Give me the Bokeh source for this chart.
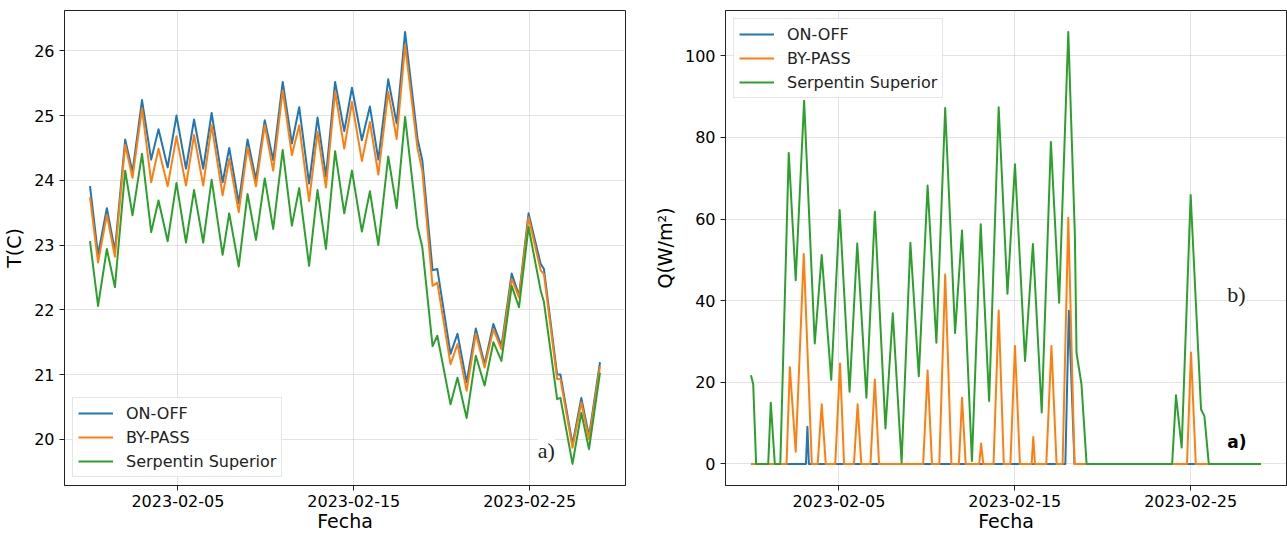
import pandas as pd
from bokeh.plotting import figure
from bokeh.layouts import row
from bokeh.models import FixedTicker, DatetimeTickFormatter, Range1d, Label, Legend, LegendItem
from bokeh.embed import file_html
from bokeh.resources import INLINE

# ---------------- data: temperature (left panel) ----------------
t_time = [
    "2023-01-31 00:00", "2023-01-31 11:00", "2023-01-31 23:00", "2023-02-01 10:00",
    "2023-02-02 00:00", "2023-02-02 10:00", "2023-02-02 23:00", "2023-02-03 11:30",
    "2023-02-03 21:30", "2023-02-04 10:00", "2023-02-04 22:00", "2023-02-05 11:00",
    "2023-02-05 22:00", "2023-02-06 10:30", "2023-02-06 22:00", "2023-02-07 13:00",
    "2023-02-07 22:00", "2023-02-08 11:00", "2023-02-08 23:00", "2023-02-09 10:30",
    "2023-02-09 22:30", "2023-02-10 10:00", "2023-02-10 23:00", "2023-02-11 11:30",
    "2023-02-11 21:30", "2023-02-12 11:00", "2023-02-12 22:30", "2023-02-13 10:00",
    "2023-02-13 22:30", "2023-02-14 11:00", "2023-02-14 21:30", "2023-02-15 11:00",
    "2023-02-15 22:00", "2023-02-16 09:30", "2023-02-16 23:00", "2023-02-17 10:30",
    "2023-02-17 22:00", "2023-02-18 15:00", "2023-02-18 21:30", "2023-02-19 11:30",
    "2023-02-19 18:00", "2023-02-20 12:00", "2023-02-20 21:30", "2023-02-21 10:00",
    "2023-02-21 22:30", "2023-02-22 10:30", "2023-02-22 22:30", "2023-02-23 09:30",
    "2023-02-23 23:30", "2023-02-24 09:30", "2023-02-24 22:30", "2023-02-25 15:00",
    "2023-02-25 19:30", "2023-02-26 13:30", "2023-02-26 18:00", "2023-02-27 10:30",
    "2023-02-27 22:30", "2023-02-28 09:00", "2023-03-01 00:00",
]
t_onoff = [
    23.91, 22.85, 23.57, 22.91, 24.63, 24.13, 25.24, 24.32, 24.79, 24.20,
    25.00, 24.18, 24.94, 24.18, 25.04, 23.97, 24.50, 23.65, 24.63, 24.01,
    24.93, 24.31, 25.52, 24.57, 25.13, 23.95, 24.97, 24.06, 25.52, 24.76,
    25.43, 24.62, 25.14, 24.32, 25.56, 24.88, 26.29, 24.64, 24.31, 22.61,
    22.63, 21.32, 21.63, 20.88, 21.71, 21.16, 21.78, 21.44, 22.56, 22.22,
    23.49, 22.71, 22.63, 21.00, 21.00, 19.92, 20.64, 20.05, 21.19,
]
t_bypass = [
    23.74, 22.73, 23.47, 22.82, 24.55, 24.04, 25.11, 23.97, 24.49, 23.91,
    24.68, 23.92, 24.70, 23.92, 24.85, 23.77, 24.33, 23.51, 24.51, 23.91,
    24.85, 24.15, 25.39, 24.39, 24.85, 23.68, 24.75, 23.89, 25.37, 24.49,
    25.21, 24.30, 24.90, 24.09, 25.37, 24.64, 26.09, 24.49, 24.15, 22.37,
    22.42, 21.16, 21.47, 20.75, 21.63, 21.11, 21.70, 21.39, 22.48, 22.19,
    23.43, 22.61, 22.55, 20.93, 20.93, 19.87, 20.57, 20.00, 21.13,
]
t_serpentin = [
    23.06, 22.06, 22.94, 22.35, 24.15, 23.46, 24.41, 23.20, 23.69, 23.06,
    23.96, 23.04, 23.85, 23.04, 24.01, 22.85, 23.49, 22.67, 23.79, 23.08,
    24.03, 23.25, 24.47, 23.30, 23.88, 22.68, 23.85, 22.94, 24.45, 23.49,
    24.15, 23.21, 23.83, 23.00, 24.37, 23.57, 24.98, 23.28, 22.97, 21.44,
    21.60, 20.54, 20.95, 20.33, 21.29, 20.83, 21.50, 21.21, 22.37, 22.04,
    23.28, 22.30, 22.12, 20.62, 20.64, 19.62, 20.41, 19.85, 21.03,
]

# ---------------- data: heat flux (right panel) ----------------
q_onoff_time = [
    "2023-01-31 00:00", "2023-02-03 03:00", "2023-02-03 05:00", "2023-02-03 07:00",
    "2023-02-17 21:00", "2023-02-18 01:45", "2023-02-18 09:30", "2023-03-01 00:00",
]
q_onoff = [0, 0, 9.1, 0, 0, 37.5, 0, 0]

q_bypass_time = [
    "2023-01-31 00:00", "2023-02-02 00:30", "2023-02-02 05:00", "2023-02-02 13:00",
    "2023-02-03 00:00", "2023-02-03 11:00", "2023-02-03 19:00", "2023-02-04 00:30",
    "2023-02-04 06:00", "2023-02-04 19:00", "2023-02-05 01:30", "2023-02-05 07:00",
    "2023-02-05 20:30", "2023-02-06 01:30", "2023-02-06 06:30", "2023-02-06 19:00",
    "2023-02-07 01:00", "2023-02-07 06:45", "2023-02-09 19:00", "2023-02-10 01:00",
    "2023-02-10 07:00", "2023-02-10 17:00", "2023-02-11 01:00", "2023-02-11 09:30",
    "2023-02-11 19:45", "2023-02-12 00:00", "2023-02-12 05:00", "2023-02-12 23:30",
    "2023-02-13 02:00", "2023-02-13 05:00", "2023-02-13 19:00", "2023-02-14 02:00",
    "2023-02-14 09:00", "2023-02-14 18:00", "2023-02-15 00:15", "2023-02-15 07:00",
    "2023-02-15 23:00", "2023-02-16 01:15", "2023-02-16 03:30", "2023-02-16 19:00",
    "2023-02-17 02:00", "2023-02-17 09:00", "2023-02-17 17:15", "2023-02-18 01:00",
    "2023-02-18 09:30", "2023-02-24 19:00", "2023-02-25 00:30", "2023-02-25 07:00",
    "2023-03-01 00:00",
]
q_bypass = [
    0, 0, 23.7, 3.0, 51.4, 0, 0, 14.6, 0, 0, 24.6, 0, 0, 14.6, 0, 0,
    20.7, 0, 0, 22.9, 0, 0, 46.4, 0, 0, 16.2, 0, 0, 5.0, 0, 0, 37.6,
    0, 0, 28.9, 0, 0, 6.6, 0, 0, 28.9, 0, 0, 60.3, 0, 0, 27.3, 0, 0,
]

q_serp_time = [
    "2023-01-31 00:00", "2023-01-31 03:00", "2023-01-31 07:00", "2023-01-31 23:30",
    "2023-02-01 03:00", "2023-02-01 08:30", "2023-02-01 16:00", "2023-02-02 03:30",
    "2023-02-02 13:00", "2023-02-03 00:30", "2023-02-03 15:00", "2023-02-04 00:30",
    "2023-02-04 13:30", "2023-02-05 01:00", "2023-02-05 14:30", "2023-02-06 01:00",
    "2023-02-06 13:30", "2023-02-07 01:00", "2023-02-07 15:30", "2023-02-08 01:30",
    "2023-02-08 13:30", "2023-02-09 01:30", "2023-02-09 13:00", "2023-02-10 01:00",
    "2023-02-10 13:00", "2023-02-11 01:00", "2023-02-11 14:30", "2023-02-12 00:00",
    "2023-02-12 13:30", "2023-02-13 01:30", "2023-02-13 13:00", "2023-02-14 02:00",
    "2023-02-14 14:00", "2023-02-15 00:15", "2023-02-15 14:00", "2023-02-16 00:45",
    "2023-02-16 12:45", "2023-02-17 01:15", "2023-02-17 12:30", "2023-02-18 01:00",
    "2023-02-18 10:00", "2023-02-18 12:15", "2023-02-18 19:00", "2023-02-19 02:00",
    "2023-02-23 22:45", "2023-02-24 04:00", "2023-02-24 11:45", "2023-02-25 00:00",
    "2023-02-25 14:10", "2023-02-25 18:45", "2023-02-26 00:45", "2023-03-01 00:00",
]
q_serp = [
    21.7, 19.5, 0, 0, 15.0, 0, 0, 76.2, 45.0, 89.0, 29.5, 51.2, 20.6, 62.2, 17.7, 54.0,
    16.2, 61.8, 8.7, 36.9, 0.3, 54.2, 21.5, 68.2, 29.7, 87.2, 32.1, 57.2, 0.7, 58.7,
    15.4, 87.4, 41.7, 73.4, 25.2, 53.9, 12.6, 78.9, 39.5, 105.8, 56.0, 27.2, 19.5, 0,
    0, 16.8, 4.0, 65.9, 13.4, 11.7, 0, 0,
]

series_names = ["ON-OFF", "BY-PASS", "Serpentin Superior"]
series_colors = ["#1f77b4", "#ff7f0e", "#2ca02c"]
x_tick_labels = ["2023-02-05", "2023-02-15", "2023-02-25"]

FONT = "DejaVu Sans"


def dt(lst):
    return pd.to_datetime(lst)


def padded(lo, hi, frac=0.05):
    span = hi - lo
    return lo - frac * span, hi + frac * span


def style(p, ylabel, yticks):
    p.xaxis.ticker = FixedTicker(ticks=[pd.Timestamp(s).value / 1e6 for s in x_tick_labels])
    p.xaxis.formatter = DatetimeTickFormatter(days="%Y-%m-%d", months="%Y-%m-%d",
                                              hours="%Y-%m-%d", years="%Y-%m-%d")
    p.yaxis.ticker = FixedTicker(ticks=yticks)
    for ax in (p.xaxis[0], p.yaxis[0]):
        ax.major_label_text_font = FONT
        ax.major_label_text_font_size = "16px"
        ax.major_label_text_color = "black"
        ax.axis_label_text_font = FONT
        ax.axis_label_text_font_size = "19px"
        ax.axis_label_text_font_style = "normal"
        ax.axis_label_text_color = "black"
        ax.major_tick_in = 0
        ax.major_tick_out = 5
        ax.minor_tick_in = 0
        ax.minor_tick_out = 0
        ax.major_tick_line_color = "#222222"
        ax.axis_line_color = "#222222"
        ax.major_label_standoff = 5
        ax.axis_label_standoff = 6
    p.xaxis.axis_label = "Fecha"
    p.yaxis.axis_label = ylabel
    p.xaxis.axis_label_standoff = 0
    p.xaxis.major_label_standoff = 4
    p.xaxis.major_label_text_line_height = 1.0
    p.xaxis.axis_label_text_line_height = 1.0
    p.grid.grid_line_color = "#b0b0b0"
    p.grid.grid_line_alpha = 0.35
    p.grid.grid_line_width = 1
    p.outline_line_color = "#222222"
    p.outline_line_width = 1
    p.outline_line_alpha = 1
    p.background_fill_color = "white"
    p.border_fill_color = "white"


def make_legend(p, renderers, loc):
    items = [LegendItem(label=n, renderers=[r]) for n, r in zip(series_names, renderers)]
    lg = Legend(items=items, location=loc)
    lg.label_text_font = FONT
    lg.label_text_font_size = "16px"
    lg.label_text_color = "#222222"
    lg.glyph_width = 35
    lg.glyph_height = 20
    lg.label_height = 20
    lg.label_standoff = 13
    lg.spacing = 4
    lg.padding = 5
    lg.margin = 8
    lg.border_line_color = "#cccccc"
    lg.border_line_width = 1
    lg.background_fill_color = "white"
    lg.background_fill_alpha = 0.8
    p.add_layout(lg)


# ---------------- left panel ----------------
tt = dt(t_time)
x0, x1 = padded(tt.min(), tt.max())
all_t = t_onoff + t_bypass + t_serpentin
y0, y1 = padded(min(all_t), max(all_t))

p1 = figure(x_axis_type="datetime", frame_width=561, frame_height=475,
            x_range=Range1d(x0, x1), y_range=Range1d(y0, y1),
            output_backend="svg", toolbar_location=None,
            min_border_left=64, min_border_right=25, min_border_top=10, min_border_bottom=40)
style(p1, "T(C)", [20, 21, 22, 23, 24, 25, 26])
r1 = [p1.line(tt, ys, line_color=c, line_width=2, line_join="round")
      for ys, c in zip([t_onoff, t_bypass, t_serpentin], series_colors)]
make_legend(p1, r1, "bottom_left")
p1.add_layout(Label(x=pd.Timestamp("2023-02-25 11:00").value / 1e6, y=19.82, text="a)",
                    text_font="Liberation Serif", text_font_size="22px",
                    text_baseline="middle", text_align="left", text_color="#222222",
                    background_fill_color="white", background_fill_alpha=1.0))

# ---------------- right panel ----------------
qa, qb, qc = dt(q_onoff_time), dt(q_bypass_time), dt(q_serp_time)
qx0, qx1 = padded(min(qa.min(), qb.min(), qc.min()), max(qa.max(), qb.max(), qc.max()))
all_q = q_onoff + q_bypass + q_serp
qy0, qy1 = padded(min(all_q), max(all_q))

p2 = figure(x_axis_type="datetime", frame_width=561, frame_height=475,
            x_range=Range1d(qx0, qx1), y_range=Range1d(qy0, qy1),
            output_backend="svg", toolbar_location=None,
            min_border_left=70, min_border_right=1, min_border_top=10, min_border_bottom=40)
style(p2, "Q(W/m²)", [0, 20, 40, 60, 80, 100])
r2 = [p2.line(xs, ys, line_color=c, line_width=2, line_join="round")
      for xs, ys, c in zip([qa, qb, qc], [q_onoff, q_bypass, q_serp], series_colors)]
make_legend(p2, r2, "top_left")
p2.add_layout(Label(x=pd.Timestamp("2023-02-27 02:00").value / 1e6, y=41.6, text="b)",
                    text_font="Liberation Serif", text_font_size="22px",
                    text_baseline="middle", text_align="left", text_color="#222222",
                    background_fill_color="white", background_fill_alpha=1.0))
p2.add_layout(Label(x=pd.Timestamp("2023-02-27 02:00").value / 1e6, y=5.4, text="a)",
                    text_font=FONT, text_font_size="17px", text_font_style="bold",
                    text_baseline="middle", text_align="left", text_color="black"))

layout = row(p1, p2)
open("out.html", "w").write(file_html(layout, INLINE))
